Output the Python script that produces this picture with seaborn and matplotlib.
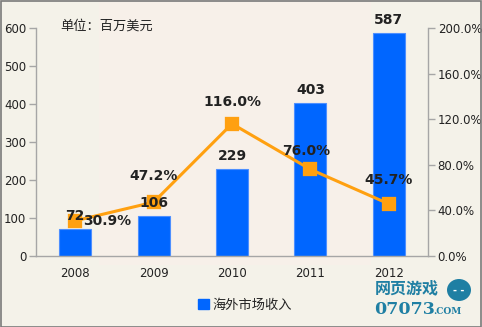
import matplotlib
matplotlib.use("Agg")
import matplotlib.pyplot as plt
import matplotlib.patches as mpatches
from matplotlib.ticker import FuncFormatter, FixedLocator
import seaborn as sns
import pandas as pd

# Overseas market revenue (million USD) and year-over-year growth (%)
years = ["2008", "2009", "2010", "2011", "2012"]
revenue = [72, 106, 229, 403, 587]
growth = [30.9, 47.2, 116.0, 76.0, 45.7]
series_name = "海外市场收入"
unit_note = "单位：百万美元"

df = pd.DataFrame({"year": years, "revenue": revenue, "growth": growth})

sns.set_theme(style="white")
plt.rcParams["font.family"] = ["DejaVu Sans", "Noto Sans CJK SC"]

BG = "#F4F2E9"
BLUE = "#0066FF"
ORANGE = "#FFA010"
AXIS = "#A6A6A6"
TEXT = "#222222"

fig = plt.figure(figsize=(4.82, 3.27), dpi=100, facecolor=BG)
# faint warm panel behind the middle of the plot
fig.patches.append(mpatches.Rectangle((0.205, 0.19), 0.565, 0.81, transform=fig.transFigure,
                                      facecolor="#F7F0E9", edgecolor="none", zorder=-5))
# outer frame
fig.patches.append(mpatches.Rectangle((0.002, 0.0), 0.996, 0.996, transform=fig.transFigure,
                                      facecolor="none", edgecolor="#7A7A7A", linewidth=1.2, zorder=5))

ax = fig.add_axes([36 / 482, 1 - 256 / 327, (428 - 36) / 482, (256 - 28) / 327])
ax.set_facecolor("none")

sns.barplot(data=df, x="year", y="revenue", color=BLUE, width=0.41, saturation=1,
            edgecolor="#4D8FFF", linewidth=0.8, ax=ax, zorder=2)
ax.set_ylim(0, 600)
ax.set_xlim(-0.5, 4.5)
ax.set_yticks(range(0, 601, 100))
ax.set_xlabel("")
ax.set_ylabel("")

ax2 = ax.twinx()
ax2.set_facecolor("none")
sns.pointplot(data=df, x="year", y="growth", color=ORANGE, markers="s", markersize=8,
              linewidth=2.2, ax=ax2)
ax2.set_ylim(0, 200)
ax2.set_xlim(-0.5, 4.5)
ax2.set_yticks(range(0, 201, 40))
ax2.yaxis.set_major_formatter(FuncFormatter(lambda v, p: f"{v:.1f}%"))
ax2.set_xlabel("")
ax2.set_ylabel("")
ax2.set_xticks([])

# category ticks sit between bars, labels centred under bars
ax.xaxis.set_major_locator(FixedLocator([i - 0.5 for i in range(len(years) + 1)]))
ax.xaxis.set_minor_locator(FixedLocator(list(range(len(years)))))
ax.set_xticklabels([""] * (len(years) + 1))
ax.set_xticklabels(years, minor=True)
ax.tick_params(axis="x", which="major", direction="out", length=5, color=AXIS, width=1)
ax.tick_params(axis="x", which="minor", length=0, pad=8, labelsize=8.5, labelcolor=TEXT)

ax.tick_params(axis="y", direction="out", length=5, color=AXIS, width=1, labelsize=8.5,
               labelcolor=TEXT, pad=2, left=True)
ax2.tick_params(axis="y", direction="out", length=5, color=AXIS, width=1, labelsize=8.5,
                labelcolor=TEXT, pad=2, right=True)

for a in (ax, ax2):
    a.spines["top"].set_visible(False)
    for side in ("left", "right", "bottom"):
        a.spines[side].set_color(AXIS)
        a.spines[side].set_linewidth(1)
    a.grid(False)
ax.spines["right"].set_visible(False)
ax2.spines["left"].set_visible(False)
ax2.spines["bottom"].set_visible(False)

# value labels on bars
for i, v in enumerate(revenue):
    ax2.annotate(f"{v}", (i, v / 3), xytext=(0, 9), textcoords="offset points",
                 ha="center", va="center", fontsize=10, fontweight="bold", color=TEXT, zorder=6)

# growth labels next to the line markers
pct_offsets = [(23, 0), (0, 19), (0, 16), (-3, 13), (0, 17)]
for i, (g, off) in enumerate(zip(growth, pct_offsets)):
    ax2.annotate(f"{g:.1f}%", (i, g), xytext=off, textcoords="offset points",
                 ha="center", va="center", fontsize=10, fontweight="bold", color=TEXT, zorder=6)

fig.text(60 / 482, 1 - 26 / 327, unit_note, fontsize=9.5, color=TEXT,
         family=["Noto Sans CJK SC", "DejaVu Sans"], ha="left", va="center")

handle = mpatches.Patch(color=BLUE, label=series_name)
leg = fig.legend(handles=[handle], loc="center", bbox_to_anchor=(245 / 482, 1 - 305 / 327),
                 frameon=False, handlelength=0.8, handleheight=0.8, handletextpad=0.3,
                 prop={"family": ["Noto Sans CJK SC", "DejaVu Sans"], "size": 9.5})
for t in leg.get_texts():
    t.set_color(TEXT)

# site mark in the lower right corner
TEAL = "#1F7FA3"
fig.text(407 / 482, 1 - 288 / 327, "网页游戏", fontsize=11.5, fontweight="bold", color=TEAL,
         family=["Noto Sans CJK SC", "DejaVu Sans"], ha="center", va="center")
fig.text(374 / 482, 1 - 309 / 327, "07073", fontsize=12.5, fontweight="bold", color=TEAL,
         family=["DejaVu Serif"], ha="left", va="center")
fig.text(433 / 482, 1 - 311 / 327, ".COM", fontsize=6.5, fontweight="bold", color=TEAL,
         family=["DejaVu Serif"], ha="left", va="center")
fig.patches.append(mpatches.Ellipse((459 / 482, 1 - 290 / 327), 24 / 482, 22 / 327,
                                    transform=fig.transFigure, facecolor=TEAL, edgecolor="none", zorder=4))
fig.text(459 / 482, 1 - 291 / 327, "- -", fontsize=7, fontweight="bold", color="white",
         ha="center", va="center", zorder=6)

fig.savefig("out.png", dpi=100, facecolor=BG)
